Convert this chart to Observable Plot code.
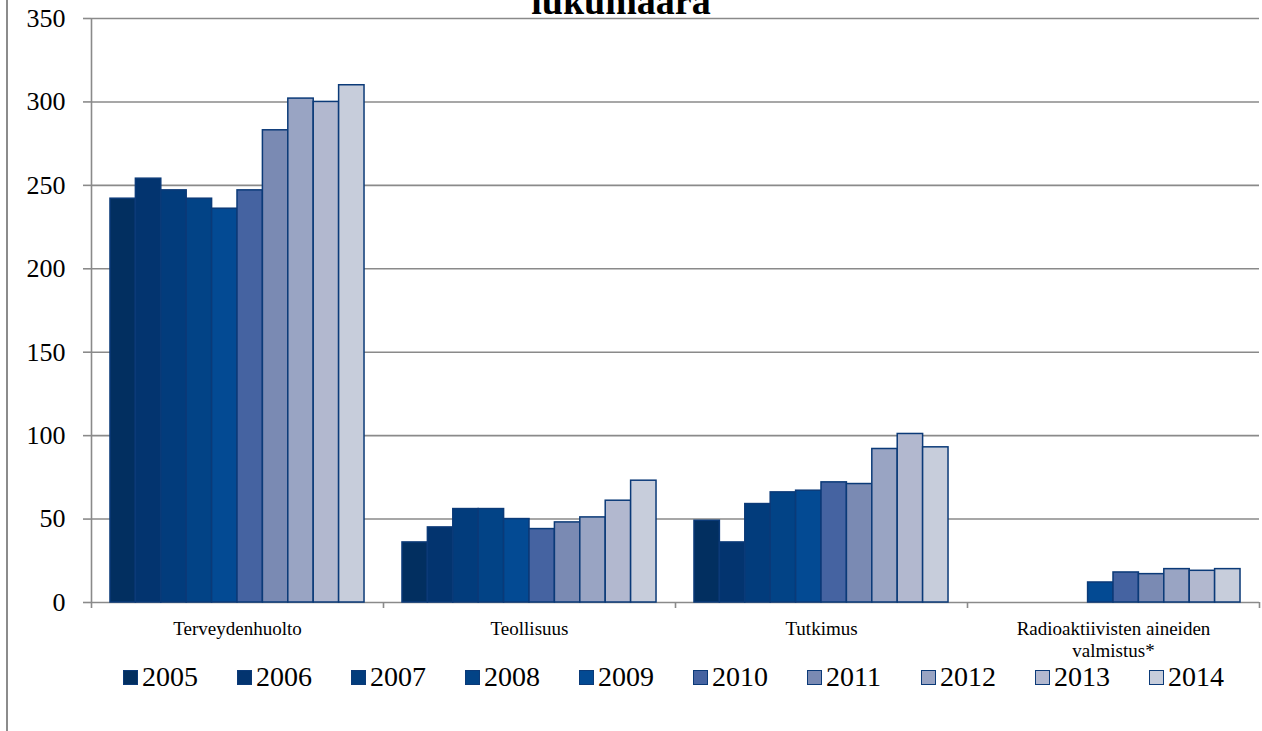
<!DOCTYPE html>
<html><head><meta charset="utf-8">
<script src="https://cdn.jsdelivr.net/npm/d3@7"></script>
<script src="https://cdn.jsdelivr.net/npm/@observablehq/plot@0.6"></script>
<style>
body{margin:0;background:#fff;font-family:"Liberation Serif",serif;}
#wrap{position:relative;width:1262px;height:731px;overflow:hidden;}
#frame{position:absolute;left:6px;top:0;width:2px;height:731px;background:#8c8c8c;}
#title{position:absolute;left:621px;top:-18px;transform:translateX(-50%);font-size:38px;font-weight:bold;line-height:1;white-space:nowrap;}
#chart{position:absolute;left:0;top:0;}
#legend{position:absolute;left:123px;top:663px;display:flex;}
.item{width:114px;display:flex;align-items:center;font-size:28px;line-height:1;}
.sw{width:13px;height:13px;border:1.5px solid #0b3a78;margin-right:4px;box-sizing:content-box;}
</style></head>
<body><div id="wrap"><div id="frame"></div><div id="title">lukumäärä</div><div id="chart"></div><div id="legend"></div></div>
<script>
const categories = ["Terveydenhuolto", "Teollisuus", "Tutkimus", "Radioaktiivisten aineiden\nvalmistus*"];
const years = [2005, 2006, 2007, 2008, 2009, 2010, 2011, 2012, 2013, 2014];
const terveydenhuolto = [242, 254, 247, 242, 236, 247, 283, 302, 300, 310];
const teollisuus = [36, 45, 56, 56, 50, 44, 48, 51, 61, 73];
const tutkimus = [49, 36, 59, 66, 67, 72, 71, 92, 101, 93];
const radioaktiiviset = [null, null, null, null, 12, 18, 17, 20, 19, 20];
const colors = ["#022f60", "#03346f", "#023c7c", "#024386", "#034a93", "#4563a1", "#7a8ab3", "#99a4c3", "#b2b8cf", "#c7cddb"];
const yTicks = [0, 50, 100, 150, 200, 250, 300, 350];

const series = [terveydenhuolto, teollisuus, tutkimus, radioaktiiviset];
const rows = [];
series.forEach((vals, ci) => vals.forEach((v, yi) => {
  if (v != null) rows.push({ci, yi, year: years[yi], value: v});
}));

const outer = 0.065;
const bw = (1 - 2 * outer) / years.length;
const gridColor = "#8a8a8a";

const chart = Plot.plot({
  width: 1262,
  height: 662,
  marginLeft: 91,
  marginRight: 3,
  marginTop: 18,
  marginBottom: 60,
  style: {fontFamily: "Liberation Serif", color: "#000", background: "transparent", overflow: "visible"},
  x: {domain: [0, categories.length], axis: null},
  y: {domain: [0, 350], axis: null},
  color: {type: "ordinal", domain: years, range: colors},
  marks: [
    Plot.ruleY(yTicks, {stroke: gridColor, strokeWidth: 1.6}),
    Plot.ruleX([0], {stroke: gridColor, strokeWidth: 1.6}),
    Plot.axisY({ticks: yTicks, label: null, tickSize: 8, tickPadding: 18, fontSize: 26, stroke: gridColor, strokeWidth: 1.6, fill: "#000"}),
    Plot.axisX({ticks: d3.range(categories.length + 1), label: null, tickSize: 6, tickFormat: () => "", stroke: gridColor, strokeWidth: 1.6}),
    Plot.rect(rows, {
      x1: d => d.ci + outer + d.yi * bw,
      x2: d => d.ci + outer + (d.yi + 1) * bw,
      y1: 0,
      y2: "value",
      fill: "year",
      stroke: "#0b3a78",
      strokeWidth: 1.5
    }),
    Plot.text(categories, {
      x: (d, i) => i + 0.5,
      text: d => d,
      frameAnchor: "bottom",
      lineAnchor: "top",
      dy: 16,
      fontSize: 19,
      lineHeight: 1.2,
      fill: "#000"
    })
  ]
});
document.getElementById("chart").appendChild(chart);

const legend = document.getElementById("legend");
years.forEach((y, i) => {
  const item = document.createElement("div");
  item.className = "item";
  const sw = document.createElement("span");
  sw.className = "sw";
  sw.style.background = colors[i];
  const lab = document.createElement("span");
  lab.textContent = y;
  item.appendChild(sw);
  item.appendChild(lab);
  legend.appendChild(item);
});
</script>
</body></html>
